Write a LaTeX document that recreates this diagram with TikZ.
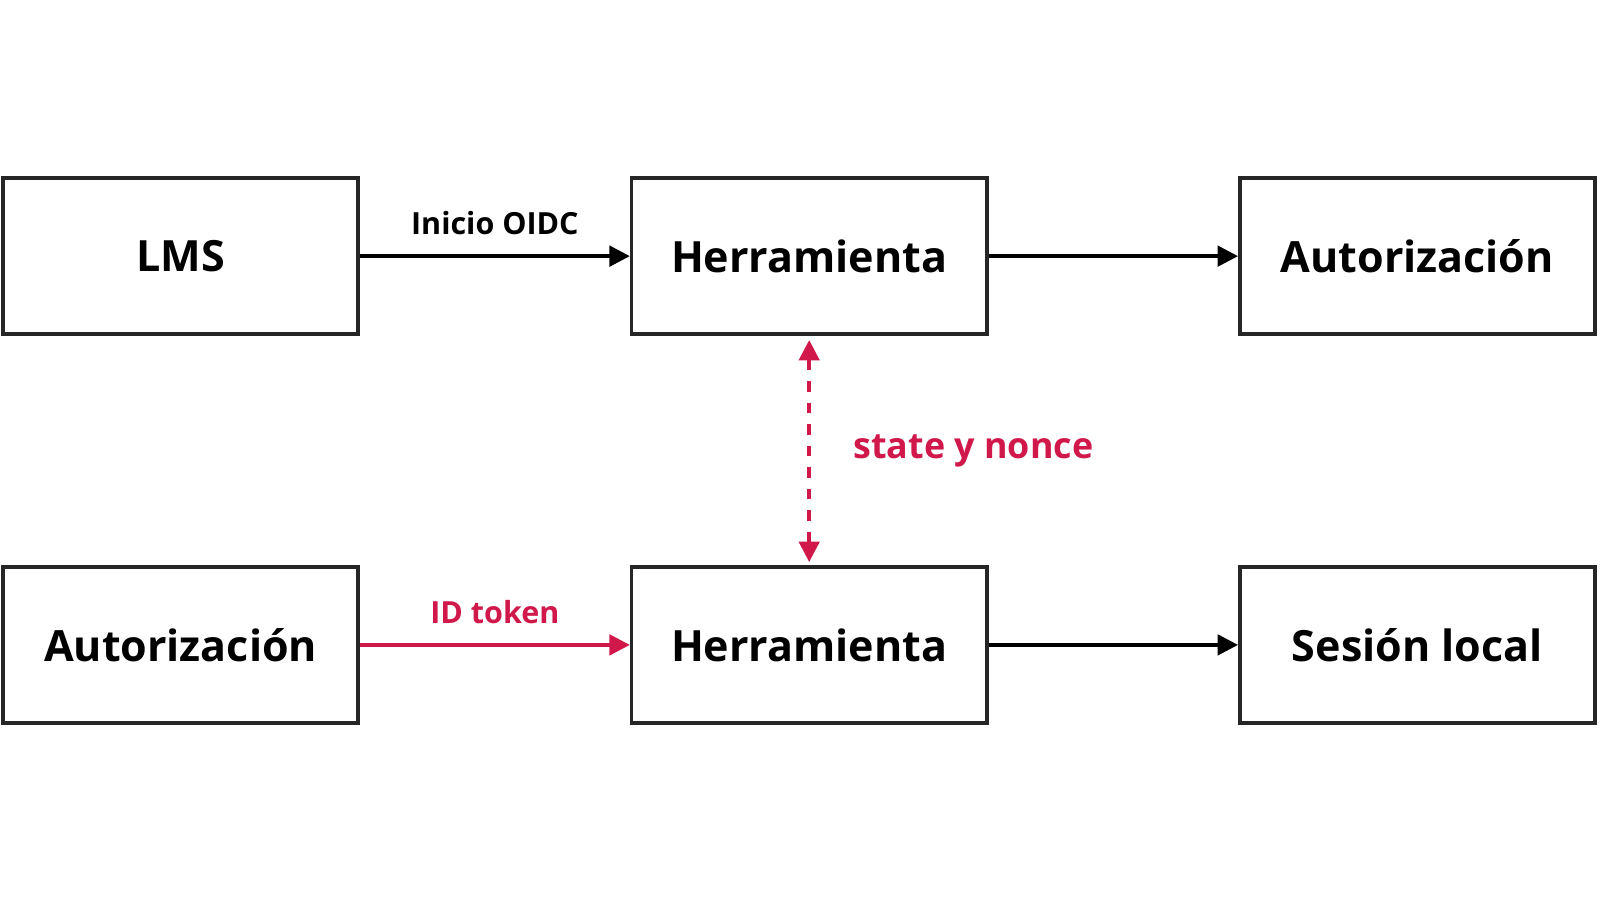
\documentclass[tikz,border=0pt]{standalone}
\usepackage{fontspec}
\setmainfont{Open Sans}
\usetikzlibrary{arrows.meta}
\definecolor{accent}{HTML}{D0184A}
\begin{document}
\begin{tikzpicture}[
  box/.style={draw=black!85,line width=1pt,minimum width=3.48cm,minimum height=1.53cm,font=\fontsize{12}{14}\selectfont\bfseries},
  arr/.style={line width=1pt,-{Triangle[length=0.2cm,width=0.2cm]}},
  lbl/.style={font=\fontsize{8.5}{10}\selectfont\bfseries}
]
\useasboundingbox (0,0.18) rectangle (15.68,9);
\node[box] (lms) at (1.77,6.49) {LMS};
\node[box] (h1) at (7.93,6.49) {Herramienta};
\node[box] (a1) at (13.89,6.49) {Autorización};
\node[box] (a2) at (1.77,2.68) {Autorización};
\node[box] (h2) at (7.93,2.68) {Herramienta};
\node[box] (s) at (13.89,2.68) {Sesión local};
\draw[arr] (lms) -- node[lbl,above=2pt]{Inicio OIDC} (h1);
\draw[arr] (h1) -- (a1);
\draw[arr,accent] (a2) -- node[lbl,above=2pt,text=accent]{ID token} (h2);
\draw[arr] (h2) -- (s);
\draw[line width=1pt,accent,dashed,{Triangle[length=0.2cm,width=0.2cm]}-{Triangle[length=0.2cm,width=0.2cm]}] ([yshift=-0.04cm]h1.south) -- node[right=0.3cm,font=\fontsize{10}{12}\selectfont\bfseries,text=accent]{state y nonce} ([yshift=0.03cm]h2.north);
\end{tikzpicture}
\end{document}
